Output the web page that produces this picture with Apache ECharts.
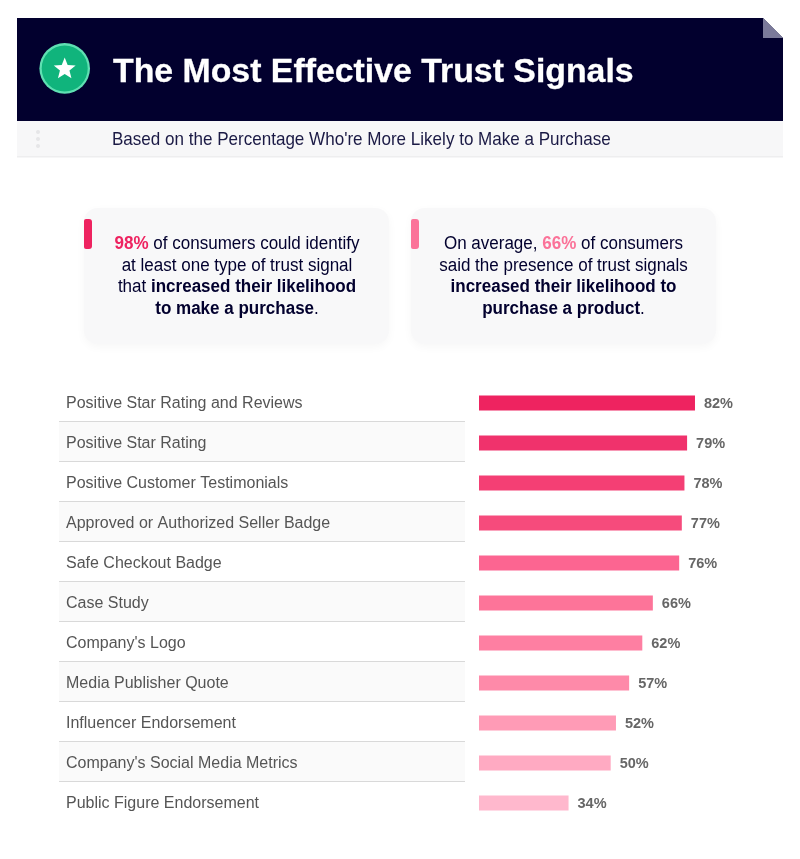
<!DOCTYPE html>
<html><head><meta charset="utf-8">
<style>html,body{margin:0;padding:0;background:#fff}#c{width:800px;height:859px}</style>
<script src="https://cdn.jsdelivr.net/npm/echarts@6/dist/echarts.min.js"></script></head>
<body><div id="c"></div>
<script>
const categories = ["Positive Star Rating and Reviews","Positive Star Rating","Positive Customer Testimonials","Approved or Authorized Seller Badge","Safe Checkout Badge","Case Study","Company's Logo","Media Publisher Quote","Influencer Endorsement","Company's Social Media Metrics","Public Figure Endorsement"];
const values = [82,79,78,77,76,66,62,57,52,50,34];
const barColors = ["#ee2360","#f0326c","#f43f74","#f64b7c","#fc6591","#fd7499","#fe7fa2","#fe8aa9","#ff9bb6","#ffaac2","#ffb8cd"];
const NAVY = "#02002e", PINK = "#ee2360", PINK2 = "#fb7399";
const SANS = "'Liberation Sans',Arial,sans-serif";

function para(cx, y, segs){
  const rich = {};
  let text = "";
  segs.forEach((s,i)=>{
    const k = "s"+i;
    rich[k] = {fontFamily:SANS, fontSize:18, fontWeight:s[1]==="b"||s[1]==="p"?"bold":"normal", fill:s[1]==="p"?s[2]:NAVY};
    text += "{"+k+"|"+s[0]+"}";
  });
  return {type:"text", z:5, x:cx, y:y+1, scaleX:0.945, style:{x:0, y:0, text:text, rich:rich, align:"center", verticalAlign:"middle"}};
}
function card(x,y,w,h,tab){
  return [
    {type:"rect", z:1, shape:{x:x,y:y,width:w,height:h,r:14}, style:{fill:"#f8f8f9", shadowBlur:10, shadowColor:"rgba(0,0,0,0.035)", shadowOffsetY:3}},
    {type:"rect", z:2, shape:{x:x,y:y+11,width:8,height:30,r:[2,3,3,2]}, style:{fill:tab}}
  ];
}
const starPoints = [];
for (let i=0;i<10;i++){
  const r = i%2===0 ? 11.5 : 5, a = -Math.PI/2 + i*Math.PI/5;
  starPoints.push([64.7+r*Math.cos(a), 69+r*Math.sin(a)]);
}
const graphics = [
  {type:"rect", z:1, shape:{x:17,y:18,width:766,height:103}, style:{fill:NAVY}},
  {type:"polygon", z:2, shape:{points:[[763,18],[783,18],[783,38]]}, style:{fill:"#fff"}},
  {type:"polygon", z:2, shape:{points:[[763,18],[783,38],[763,38]]}, style:{fill:"#7b7a9a"}},
  {type:"rect", z:1, shape:{x:17,y:121,width:766,height:36}, style:{fill:"#f7f7f8"}},
  {type:"rect", z:1, shape:{x:17,y:156,width:766,height:1.5}, style:{fill:"#eeeeef"}},
  {type:"circle", z:2, shape:{cx:38,cy:132,r:2}, style:{fill:"#e6e6e8"}},
  {type:"circle", z:2, shape:{cx:38,cy:139,r:2}, style:{fill:"#e6e6e8"}},
  {type:"circle", z:2, shape:{cx:38,cy:146,r:2}, style:{fill:"#e6e6e8"}},
  {type:"circle", z:2, shape:{cx:64.7,cy:68.4,r:25.3}, style:{fill:"#5fe0b2"}},
  {type:"circle", z:3, shape:{cx:64.7,cy:68.4,r:23}, style:{fill:"#10b47c"}},
  {type:"polygon", z:4, shape:{points:starPoints}, style:{fill:"#fff"}},
  {type:"text", z:5, x:113, y:73, scaleX:1.025, style:{x:0,y:0,text:"The Most Effective Trust Signals",fill:"#fff",stroke:"#fff",lineWidth:0.3,fontFamily:SANS,fontWeight:"bold",fontSize:33,align:"left",verticalAlign:"middle"}},
  {type:"text", z:5, x:112, y:140, scaleX:0.897, style:{x:0,y:0,text:"Based on the Percentage Who're More Likely to Make a Purchase",fill:"#1b1a45",fontFamily:SANS,fontSize:19,align:"left",verticalAlign:"middle"}},
  ...card(84,208,305,136,PINK),
  ...card(411,208,305,136,PINK2),
  para(237,243,[["98%","p",PINK],[" of consumers could identify","n"]]),
  para(237,265,[["at least one type of trust signal","n"]]),
  para(237,286.5,[["that ","n"],["increased their likelihood","b"]]),
  para(237,308,[["to make a purchase","b"],[".","n"]]),
  para(563.5,243,[["On average, ","n"],["66%","p",PINK2],[" of consumers","n"]]),
  para(563.5,265,[["said the presence of trust signals","n"]]),
  para(563.5,286.5,[["increased their likelihood to","b"]]),
  para(563.5,308,[["purchase a product","b"],[".","n"]])
];
const chart = echarts.init(document.getElementById("c"), null, {renderer:"canvas"});
chart.setOption({
  animation:false,
  backgroundColor:"#fff",
  graphic:{elements:graphics},
  grid:[
    {left:59,top:381,width:406,height:440},
    {left:479,top:383,width:263.4,height:440},
    {left:59,top:384,width:406,height:440}
  ],
  xAxis:[
    {gridIndex:0,type:"value",min:0,max:1,show:false},
    {gridIndex:1,type:"value",min:0,max:100,show:false},
    {gridIndex:2,type:"value",min:0,max:1,show:false}
  ],
  yAxis:[
    {gridIndex:0,type:"category",inverse:true,data:categories,
     axisLine:{show:false},axisTick:{show:false},axisLabel:{show:false},
     splitLine:{show:true,showMinLine:false,showMaxLine:false,lineStyle:{color:"#d9d9d9",width:1}},
     splitArea:{show:true,areaStyle:{color:["#ffffff","#fafafa"]}}},
    {gridIndex:1,type:"category",inverse:true,data:categories,show:false},
    {gridIndex:2,type:"category",inverse:true,data:categories,
     axisLine:{show:false},axisTick:{show:false},splitLine:{show:false},
     axisLabel:{inside:true,margin:7,color:"#555",fontFamily:SANS,fontSize:16,align:"left"}}
  ],
  series:[{
    type:"bar",xAxisIndex:1,yAxisIndex:1,barWidth:15,
    data:values.map((v,i)=>({value:v,itemStyle:{color:barColors[i]}})),
    label:{show:true,position:"right",distance:9,offset:[0,1],formatter:"{c}%",color:"#666",fontFamily:SANS,fontWeight:"bold",fontSize:14.5}
  }]
});
</script></body></html>
